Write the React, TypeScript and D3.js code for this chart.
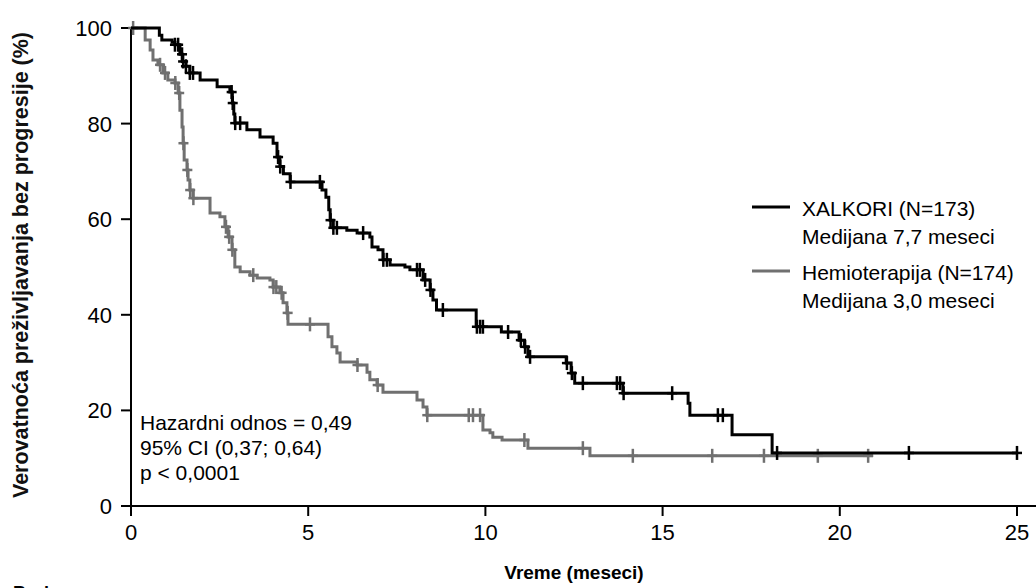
import React from "react";
import * as d3 from "d3";

// Kaplan-Meier steps: [months, % without progression]
const xalkoriSteps: [number, number][] = [
  [0.8, 98.5], [0.87, 97.5], [1.16, 97.0], [1.24, 96.5], [1.38, 94.5], [1.45, 93.0],
  [1.55, 92.0], [1.66, 90.6], [1.95, 89.1], [2.43, 87.7], [2.79, 86.6], [2.86, 84.3],
  [2.9, 82.0], [2.93, 80.1], [3.27, 78.7], [3.64, 77.2], [4.01, 75.9], [4.12, 73.0],
  [4.2, 71.0], [4.3, 69.5], [4.49, 67.8], [5.39, 66.1], [5.5, 64.6], [5.58, 62.0],
  [5.62, 59.8], [5.7, 58.2], [6.09, 57.7], [6.38, 57.1], [6.74, 56.3], [6.8, 54.2],
  [6.97, 53.6], [7.11, 51.5], [7.31, 50.4], [7.73, 50.0], [7.87, 49.4], [8.24, 47.3],
  [8.44, 45.2], [8.52, 43.1], [8.62, 41.0], [9.74, 37.5], [10.45, 36.4], [10.95, 34.7],
  [11.1, 33.3], [11.2, 31.2], [12.28, 29.9], [12.42, 27.8], [12.52, 25.7], [13.88, 23.6],
  [15.72, 21.5], [15.77, 19.0], [16.96, 14.9], [18.09, 11.1],
];
const xalkoriEnd = 25.0;
const xalkoriCensored = [
  1.24, 1.33, 1.44, 1.47, 1.55, 1.66, 1.75, 2.84, 2.87, 2.94, 3.08, 4.15, 4.21,
  4.5, 5.33, 5.63, 5.71, 5.81, 6.55, 7.12, 7.22, 8.07, 8.15, 8.3, 8.45, 8.8,
  9.76, 9.85, 9.93, 10.64, 11.0, 11.12, 11.26, 12.3, 12.44, 12.75, 13.71, 13.8,
  13.9, 15.27, 16.56, 16.7, 18.23, 21.95, 25.0,
];

const chemoSteps: [number, number][] = [
  [0.4, 97.5], [0.54, 95.4], [0.62, 93.3], [0.76, 92.3], [0.9, 90.6], [1.04, 89.1],
  [1.24, 88.5], [1.33, 86.4], [1.38, 82.8], [1.44, 79.3], [1.47, 75.9], [1.5, 72.4],
  [1.58, 70.3], [1.61, 68.2], [1.66, 66.1], [1.75, 64.4], [2.23, 61.3], [2.51, 60.5],
  [2.65, 58.4], [2.74, 56.3], [2.85, 53.6], [2.93, 50.0], [3.08, 49.0], [3.36, 48.3],
  [3.56, 47.7], [3.92, 47.3], [4.01, 45.8], [4.2, 44.6], [4.29, 42.5], [4.4, 40.4],
  [4.43, 38.0], [5.56, 35.4], [5.67, 33.3], [5.81, 32.0], [5.9, 30.1], [6.38, 29.5],
  [6.66, 28.0], [6.74, 26.4], [6.94, 25.3], [7.11, 23.8], [8.07, 22.2], [8.24, 20.7],
  [8.35, 19.0], [9.93, 15.9], [10.13, 15.3], [10.21, 14.4], [10.47, 13.8],
  [11.2, 12.1], [12.95, 10.5],
];
const chemoEnd = 20.94;
const chemoCensored = [
  0.06, 0.82, 0.96, 1.25, 1.36, 1.48, 1.59, 1.67, 1.76, 2.68, 2.77, 2.86, 3.45,
  4.02, 4.1, 4.25, 4.42, 5.05, 6.39, 6.96, 8.36, 9.53, 9.65, 9.85, 11.1, 12.75,
  14.16, 16.4, 17.86, 19.38, 20.8,
];

const xTicks = [0, 5, 10, 15, 20, 25];
const yTicks = [0, 20, 40, 60, 80, 100];

const legendItems = [
  { color: "#000000", lines: ["XALKORI (N=173)", "Medijana 7,7 meseci"] },
  { color: "#707070", lines: ["Hemioterapija (N=174)", "Medijana 3,0 meseci"] },
];
const statsLines = ["Hazardni odnos = 0,49", "95% CI (0,37; 0,64)", "p < 0,0001"];

const W = 1036;
const H = 588;
const FONT = "'Liberation Sans', Arial, sans-serif";

export default function App() {
  const x = d3.scaleLinear().domain([0, 25]).range([131, 1017]);
  const y = d3.scaleLinear().domain([0, 100]).range([506, 28]);

  const line = d3
    .line<[number, number]>()
    .x((d) => x(d[0]))
    .y((d) => y(d[1]))
    .curve(d3.curveStepAfter);

  const pathFor = (steps: [number, number][], end: number) => {
    const pts: [number, number][] = [[0, 100], ...steps, [end, steps[steps.length - 1][1]]];
    return line(pts) ?? "";
  };

  const valueAt = (steps: [number, number][], t: number) => {
    let v = 100;
    for (const [st, sv] of steps) if (st <= t) v = sv;
    return v;
  };

  const censorMarks = (steps: [number, number][], times: number[], color: string) =>
    times.map((t, i) => {
      const cx = x(t);
      const cy = y(valueAt(steps, t));
      return (
        <g key={i} stroke={color} strokeWidth={2.5}>
          <line x1={cx} x2={cx} y1={cy - 7} y2={cy + 7} />
          <line x1={cx - 5} x2={cx + 5} y1={cy} y2={cy} />
        </g>
      );
    });

  return (
    <svg
      width={W}
      height={H}
      style={{ position: "absolute", left: 0, top: 0, background: "#fff" }}
      fontFamily={FONT}
    >
      {/* axes */}
      <line x1={131} x2={131} y1={y(100)} y2={y(0)} stroke="#000" strokeWidth={2} />
      <line x1={121} x2={W} y1={y(0)} y2={y(0)} stroke="#000" strokeWidth={2} />
      {yTicks.map((t) => (
        <g key={t}>
          <line x1={121} x2={131} y1={y(t)} y2={y(t)} stroke="#000" strokeWidth={2} />
          <text x={112} y={y(t) + 8} textAnchor="end" fontSize={22}>
            {t}
          </text>
        </g>
      ))}
      {xTicks.map((t) => (
        <g key={t}>
          <line x1={x(t)} x2={x(t)} y1={y(0)} y2={y(0) + 10} stroke="#000" strokeWidth={2} />
          <text x={x(t)} y={540} textAnchor="middle" fontSize={22}>
            {t}
          </text>
        </g>
      ))}

      {/* curves */}
      <path d={pathFor(chemoSteps, chemoEnd)} fill="none" stroke="#707070" strokeWidth={3} />
      {censorMarks(chemoSteps, chemoCensored, "#707070")}
      <path d={pathFor(xalkoriSteps, xalkoriEnd)} fill="none" stroke="#000" strokeWidth={3} />
      {censorMarks(xalkoriSteps, xalkoriCensored, "#000")}

      {/* labels */}
      <text
        transform="translate(28,265) rotate(-90)"
        textAnchor="middle"
        fontSize={21.5}
        fontWeight="bold"
        fill="#111"
      >
        Verovatnoća preživljavanja bez progresije (%)
      </text>
      <text x={574} y={579} textAnchor="middle" fontSize={19}>
        <tspan fontWeight="bold">Vreme (meseci)</tspan>
      </text>
      <text x={13} y={599} fontSize={18} fontWeight="bold">
        Broj
      </text>

      {/* legend */}
      {legendItems.map((item, i) => (
        <g key={i} transform={`translate(0,${i * 64})`}>
          <line x1={752} x2={790} y1={207} y2={207} stroke={item.color} strokeWidth={3} />
          {item.lines.map((l, j) => (
            <text key={j} x={802} y={216 + j * 28} fontSize={21}>
              {l}
            </text>
          ))}
        </g>
      ))}

      {/* stats */}
      {statsLines.map((l, i) => (
        <text key={i} x={140} y={430 + i * 25} fontSize={21}>
          {l}
        </text>
      ))}
    </svg>
  );
}
